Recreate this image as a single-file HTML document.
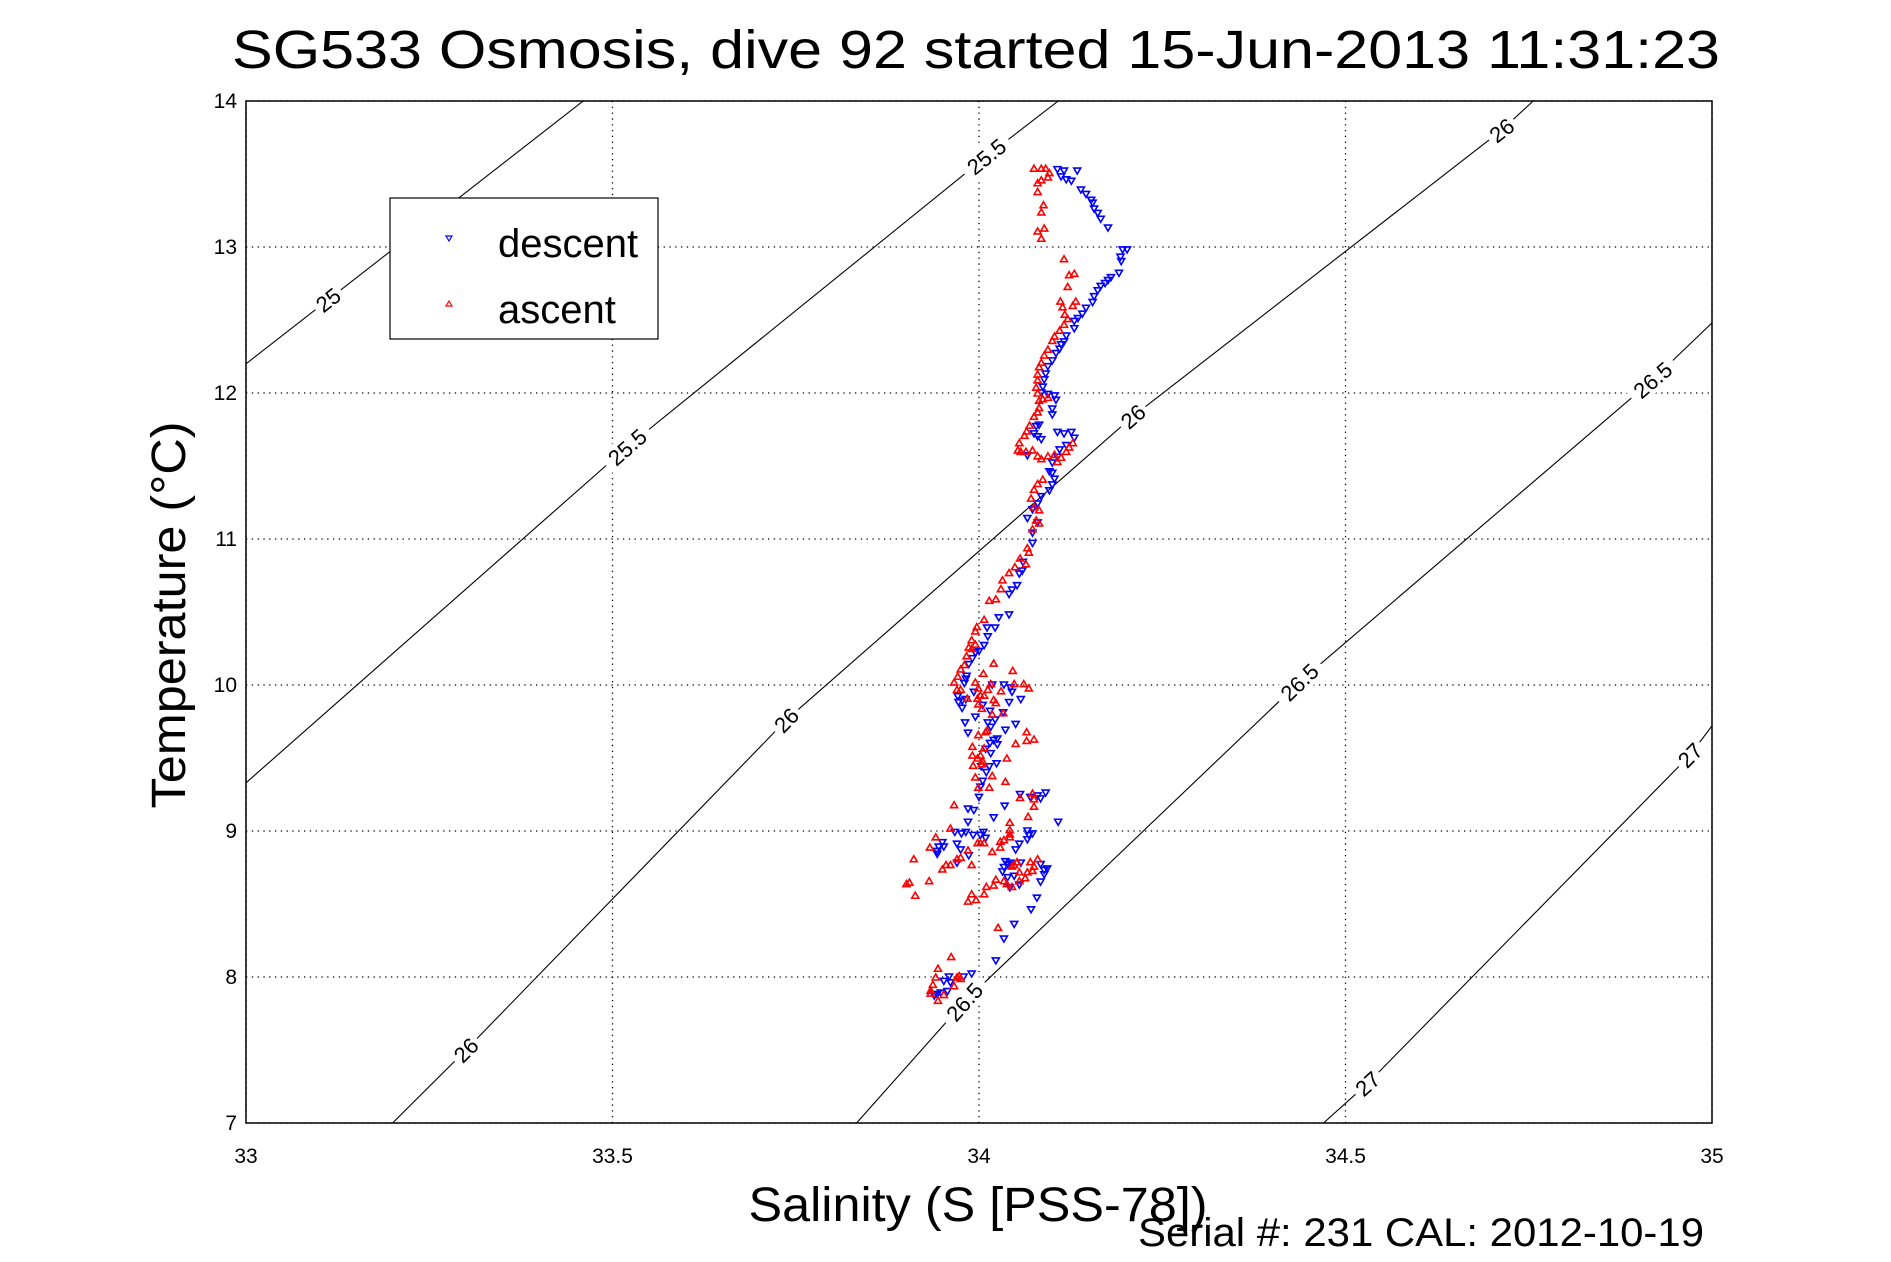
<!DOCTYPE html>
<html><head><meta charset="utf-8"><style>
html,body{margin:0;padding:0;background:#fff;}
svg{display:block;font-family:"Liberation Sans",sans-serif;}
</style></head><body>
<svg id="chart" width="1891" height="1262" viewBox="0 0 1891 1262" xmlns="http://www.w3.org/2000/svg">
<defs><clipPath id="clip"><rect x="246" y="101" width="1466" height="1022"/></clipPath></defs>
<rect width="1891" height="1262" fill="#fff"/>
<text x="976" y="68" font-size="54" text-anchor="middle" textLength="1488" lengthAdjust="spacingAndGlyphs">SG533 Osmosis, dive 92 started 15-Jun-2013 11:31:23</text>
<g id="grid"></g>
<g id="contours" clip-path="url(#clip)"></g>
<g id="clabels"></g>
<g id="points" clip-path="url(#clip)"></g>
<rect x="246" y="101" width="1466" height="1022" fill="none" stroke="#000" stroke-width="1.5"/>
<g id="ticks" font-size="21"></g>
<text x="978" y="1221" font-size="48" text-anchor="middle" textLength="459" lengthAdjust="spacingAndGlyphs">Salinity (S [PSS-78])</text>
<text transform="translate(185,615) rotate(-90)" font-size="48" text-anchor="middle" textLength="387" lengthAdjust="spacingAndGlyphs">Temperature (°C)</text>
<text x="1138" y="1246" font-size="40" textLength="566" lengthAdjust="spacingAndGlyphs">Serial #: 231  CAL: 2012-10-19</text>
<g>
<rect x="390" y="198" width="268" height="141" fill="#fff" stroke="#000" stroke-width="1.2"/>
<path d="M446,236 L452,236 L449,241 Z" fill="none" stroke="#00f" stroke-width="1.2"/>
<text x="498" y="257" font-size="40">descent</text>
<path d="M446,306 L452,306 L449,301 Z" fill="none" stroke="#f00" stroke-width="1.2"/>
<text x="498" y="323" font-size="40">ascent</text>
</g>
</svg>
<script>
// ---- data ----
const xTicks = [33, 33.5, 34, 34.5, 35];
const xTickLabels = ["33", "33.5", "34", "34.5", "35"];
const yTicks = [7, 8, 9, 10, 11, 12, 13, 14];
const yTickLabels = ["7", "8", "9", "10", "11", "12", "13", "14"];

const contour25 = [[33,12.2],[33.46,14]];
const contour255 = [[33,9.33],[33.52,11.63],[34.01,13.62],[34.108,14]];
const contour26 = [[33.2,7],[33.3,7.5],[33.737,9.76],[34.21,11.84],[34.713,13.8],[34.756,14]];
const contour265 = [[33.833,7],[33.98,7.83],[34.437,10.02],[34.919,12.09],[35,12.48]];
const contour27 = [[34.47,7],[34.53,7.27],[34.97,9.52],[35,9.72]];
const contourLevels = ["25","25.5","26","26.5","27"];
const labels25 = [33.112];
const labels255 = [33.52, 34.01];
const labels26 = [33.30, 33.737, 34.21, 34.713];
const labels265 = [33.98, 34.437, 34.919];
const labels27 = [34.53, 34.97];

const descentS = [34.107,34.116,34.112,34.119,34.126,34.134,34.139,34.146,34.153,34.155,34.157,34.162,34.166,34.176,34.196,34.202,34.193,34.194,34.191,34.180,34.176,34.172,34.166,34.162,34.157,34.155,34.146,34.141,34.135,34.130,34.130,34.119,34.116,34.112,34.110,34.105,34.100,34.094,34.091,34.089,34.087,34.085,34.094,34.103,34.105,34.100,34.100,34.082,34.078,34.075,34.080,34.085,34.066,34.107,34.116,34.126,34.130,34.119,34.110,34.107,34.100,34.096,34.100,34.103,34.100,34.096,34.085,34.080,34.073,34.066,34.080,34.073,
34.073,34.060,34.059,34.055,34.052,34.045,34.041,
34.041,34.027,34.011,34.022,34.012,34.007,34.000,33.995,33.991,33.986,33.983,33.982,33.980,34.018,34.034,34.043,34.045,33.993,33.971,33.977,33.982,33.972,33.977,34.041,34.057,34.005,34.015,34.033,33.995,33.981,34.012,34.022,34.016,34.036,34.050,33.985,34.025,34.020,34.015,34.025,34.009,34.016,34.024,34.003,34.014,34.010,34.005,34.002,34.000,34.056,34.070,34.080,34.091,34.084,34.035,33.985,33.993,34.020,33.985,34.108,
33.967,33.976,33.982,33.992,34.002,34.006,34.009,34.066,34.073,34.068,34.066,33.950,33.945,33.952,33.943,33.943,33.970,33.975,33.986,33.970,34.055,34.050,34.036,34.039,34.034,34.032,34.043,34.057,34.084,34.093,34.089,34.089,34.039,34.048,34.055,34.042,34.084,34.079,34.071,34.048,34.034,34.023,33.990,33.979,33.959,33.961,33.952,33.957,33.948,33.943,33.939];
const descentT = [13.53,13.52,13.48,13.46,13.45,13.52,13.39,13.36,13.32,13.30,13.26,13.23,13.19,13.13,12.98,12.98,12.93,12.90,12.82,12.79,12.77,12.75,12.73,12.70,12.66,12.62,12.58,12.54,12.51,12.49,12.44,12.39,12.35,12.33,12.30,12.27,12.22,12.18,12.13,12.09,12.04,12.00,11.99,11.98,11.95,11.89,11.85,11.78,11.77,11.72,11.70,11.68,11.57,11.73,11.72,11.73,11.69,11.64,11.61,11.56,11.52,11.46,11.45,11.41,11.37,11.33,11.29,11.24,11.20,11.14,11.11,11.04,
10.97,10.84,10.78,10.76,10.68,10.65,10.62,
10.48,10.46,10.39,10.39,10.33,10.27,10.23,10.22,10.18,10.14,10.06,10.04,10.01,10.00,10.00,9.98,9.95,9.95,9.92,9.89,9.90,9.88,9.84,9.88,9.90,9.86,9.82,9.81,9.78,9.74,9.74,9.76,9.71,9.69,9.73,9.67,9.63,9.62,9.60,9.59,9.56,9.53,9.46,9.44,9.44,9.40,9.34,9.30,9.23,9.25,9.23,9.24,9.26,9.22,9.17,9.15,9.14,9.09,9.06,9.06,
8.99,8.98,8.99,8.97,8.97,8.99,8.95,9.00,8.98,8.97,8.94,8.92,8.89,8.89,8.86,8.84,8.91,8.87,8.83,8.78,8.91,8.87,8.79,8.77,8.75,8.72,8.78,8.78,8.77,8.74,8.73,8.70,8.68,8.69,8.63,8.61,8.65,8.54,8.46,8.36,8.26,8.11,8.02,8.00,8.00,7.96,7.97,7.90,7.89,7.88,7.87];

const ascentS = [34.075,34.085,34.091,34.096,34.094,34.085,34.080,34.080,34.088,34.085,34.080,34.089,34.085,34.116,34.123,34.130,34.121,34.111,34.114,34.117,34.132,34.128,34.121,34.116,34.110,34.103,34.100,34.094,34.089,34.085,34.082,34.080,34.080,34.078,34.080,34.082,34.087,34.094,34.082,34.080,34.075,34.069,34.065,34.062,34.055,34.053,34.057,34.064,34.073,34.080,34.085,34.094,34.103,34.112,34.119,34.123,34.128,34.107,34.087,34.080,34.075,34.071,34.075,34.082,34.078,34.073,34.082,
34.066,34.068,34.056,34.064,34.049,34.041,34.032,34.030,34.014,34.023,
34.007,33.997,33.995,33.990,33.995,33.986,33.990,33.983,33.980,33.975,33.971,34.020,34.046,34.006,33.966,33.995,33.999,33.970,33.975,34.012,34.016,34.048,34.061,34.068,34.030,34.007,34.002,34.020,34.023,33.998,33.984,33.999,34.004,34.018,34.033,34.009,34.011,34.065,33.999,34.075,34.065,34.050,34.007,33.991,34.002,33.991,33.998,34.005,34.004,34.038,33.992,34.018,33.995,34.036,34.014,33.999,34.073,34.056,34.075,33.966,34.075,34.067,34.042,33.961,
34.042,34.042,34.042,34.034,34.029,33.941,33.933,33.985,33.998,34.002,34.007,34.018,34.029,33.911,33.975,33.970,33.961,33.955,33.950,33.990,34.052,34.048,34.045,34.070,34.080,34.075,34.073,34.066,34.063,34.055,34.055,34.034,34.038,34.023,34.020,34.010,34.045,34.007,33.932,33.905,33.901,33.913,33.990,33.985,33.996,34.026,33.962,33.944,33.941,33.973,33.975,33.970,33.937,33.934,33.934,33.944,33.952,33.966];
const ascentT = [13.54,13.54,13.54,13.51,13.48,13.46,13.44,13.38,13.29,13.24,13.11,13.13,13.06,12.92,12.81,12.82,12.73,12.63,12.59,12.54,12.63,12.60,12.51,12.47,12.43,12.39,12.36,12.30,12.26,12.21,12.18,12.13,12.09,12.04,12.00,11.95,11.96,11.97,11.90,11.87,11.84,11.78,11.74,11.71,11.66,11.61,11.60,11.60,11.61,11.57,11.55,11.57,11.58,11.56,11.60,11.63,11.66,11.53,11.41,11.38,11.34,11.28,11.22,11.20,11.13,11.07,11.11,
10.94,10.91,10.87,10.83,10.81,10.77,10.72,10.66,10.58,10.59,
10.45,10.40,10.37,10.31,10.28,10.26,10.25,10.20,10.14,10.11,10.06,10.15,10.10,10.08,10.02,10.02,9.98,9.97,9.97,9.97,10.01,10.01,10.01,9.98,9.96,9.93,9.93,9.90,9.88,9.91,9.91,9.87,9.84,9.80,9.81,9.68,9.69,9.68,9.66,9.63,9.62,9.60,9.57,9.58,9.52,9.52,9.50,9.48,9.46,9.50,9.45,9.38,9.37,9.34,9.30,9.30,9.26,9.23,9.22,9.18,9.17,9.10,9.06,9.02,
9.01,8.98,8.96,8.94,8.93,8.96,8.89,8.87,8.92,8.92,8.92,8.86,8.89,8.81,8.82,8.81,8.77,8.77,8.74,8.77,8.79,8.77,8.76,8.79,8.81,8.76,8.73,8.72,8.68,8.72,8.66,8.66,8.64,8.67,8.63,8.62,8.62,8.57,8.66,8.65,8.64,8.56,8.57,8.52,8.53,8.34,8.14,8.06,8.00,8.01,7.99,8.00,7.95,7.91,7.89,7.84,7.88,7.94];

// ---- axes ----
const X0=246, X1=1712, Y0=1123, Y1=101;
function xs(s){return X0+(s-33)/(35-33)*(X1-X0);}
function ys(t){return Y0-(t-7)/(14-7)*(Y0-Y1);}
const NS="http://www.w3.org/2000/svg";
function mk(tag,attrs,parent){const e=document.createElementNS(NS,tag);for(const k in attrs)e.setAttribute(k,attrs[k]);parent.appendChild(e);return e;}

const grid=document.getElementById('grid'), ticks=document.getElementById('ticks');
xTicks.forEach((v,i)=>{
  const l=mk('line',{x1:xs(v),x2:xs(v),y1:Y1,y2:Y0,stroke:'#000','stroke-width':1.3,'stroke-dasharray':'1.3,4.5'},grid);
  
  
  const t=mk('text',{x:xs(v),y:1163,'text-anchor':'middle'},ticks);t.textContent=xTickLabels[i];
  
  
});
yTicks.forEach((v,i)=>{
  const l=mk('line',{x1:X0,x2:X1,y1:ys(v),y2:ys(v),stroke:'#000','stroke-width':1.3,'stroke-dasharray':'1.3,4.5'},grid);
  
  
  const t=mk('text',{x:237,y:ys(v)+7,'text-anchor':'end'},ticks);t.textContent=yTickLabels[i];
  
  
});

// ---- contours ----
const cg=document.getElementById('contours'), lg=document.getElementById('clabels');
const contours=[contour25,contour255,contour26,contour265,contour27];
const clabels=[labels25,labels255,labels26,labels265,labels27];
function interp(pts,s){
  for(let i=0;i<pts.length-1;i++){const a=pts[i],b=pts[i+1];
    if(s>=a[0]&&s<=b[0]){const f=(s-a[0])/(b[0]-a[0]);return [a[1]+f*(b[1]-a[1]),Math.atan2(ys(b[1])-ys(a[1]),xs(b[0])-xs(a[0]))];}}
  const a=pts[pts.length-2],b=pts[pts.length-1];return [b[1],Math.atan2(ys(b[1])-ys(a[1]),xs(b[0])-xs(a[0]))];
}
contours.forEach((pts,ci)=>{
  const p=mk('polyline',{points:pts.map(q=>xs(q[0])+','+ys(q[1])).join(' '),fill:'none',stroke:'#000','stroke-width':1.1},cg);
  
  
  clabels[ci].forEach(s=>{
    const r=interp(pts,s);const cx=xs(s),cy=ys(r[0]);const ang=r[1]*180/Math.PI;
    const g=mk('g',{transform:`translate(${cx},${cy}) rotate(${ang})`},lg);
    
    
    const w=contourLevels[ci].length*12+8;
    mk('rect',{x:-w/2,y:-12,width:w,height:24,fill:'#fff'},g);
    const t=mk('text',{x:0,y:8,'text-anchor':'middle','font-size':22},g);t.textContent=contourLevels[ci];
  });
});

// ---- points ----
const pg=document.getElementById('points');
descentS.forEach((s,i)=>{
  const x=xs(s),y=ys(descentT[i]);
  const m=mk('path',{d:`M${x-3.5},${y-3} L${x+3.5},${y-3} L${x},${y+3} Z`,fill:'none',stroke:'#00f','stroke-width':1.6},pg);
  
  
});
ascentS.forEach((s,i)=>{
  const x=xs(s),y=ys(ascentT[i]);
  const m=mk('path',{d:`M${x-3.5},${y+3} L${x+3.5},${y+3} L${x},${y-3} Z`,fill:'none',stroke:'#f00','stroke-width':1.6},pg);
  
  
});
</script>
</body></html>
